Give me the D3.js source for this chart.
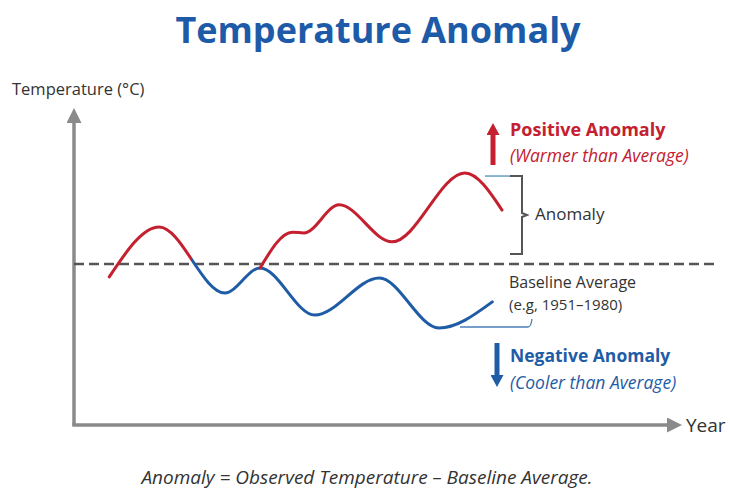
<!DOCTYPE html>
<html lang="en">
<head>
    <meta charset="UTF-8">
    <title>Temperature Anomaly</title>
    <script src="https://d3js.org/d3.v7.min.js"></script>
    <style>
        body { margin: 0; background: #fff; }
        svg { display: block; font-family: "Open Sans", "Noto Sans", sans-serif; }
    </style>
</head>
<body>
    <div id="chart"></div>

    <script>
        // Illustrative data: x = time index, y = anomaly (°C) vs. baseline
        // observed trunk (red while above the baseline, then blue)
        const trunkX = [5.8, 14.0, 24.8, 30.6, 39.6, 50.2, 60.0, 68.8];
        const trunkY = [-0.32, 0.92, -0.72, -0.10, -1.27, -0.35, -1.59, -0.94];
        // warmer branch that leaves the trunk
        const warmX = [30.6, 35.9, 37.8, 43.6, 52.3, 64.3, 70.4];
        const warmY = [-0.10, 0.79, 0.77, 1.47, 0.55, 2.26, 1.34];
        const crossX = 19.4;   // where the trunk drops below the baseline
        const baseline = 0;

        const width = 730;
        const height = 496;
        const red = "#c4202f";
        const blue = "#1f5ca6";
        const axisGrey = "#8a8a8a";
        const textDark = "#333";

        const svg = d3.select("#chart")
            .append("svg")
            .attr("width", width)
            .attr("height", height);

        const x = d3.scaleLinear().domain([0, 100]).range([74, 682]);
        const y = d3.scaleLinear().domain([-4, 4]).range([425, 103]);

        const defs = svg.append("defs");

        // arrow markers
        function marker(id, color, w, h) {
            defs.append("marker")
                .attr("id", id)
                .attr("viewBox", `0 0 ${h} ${w}`)
                .attr("refX", 0)
                .attr("refY", w / 2)
                .attr("markerUnits", "userSpaceOnUse")
                .attr("markerWidth", h)
                .attr("markerHeight", w)
                .attr("orient", "auto")
                .append("path")
                .attr("d", `M0,0L${h},${w / 2}L0,${w}Z`)
                .attr("fill", color);
        }
        marker("axisArrow", axisGrey, 15, 15);
        marker("redArrow", red, 13, 12);
        marker("blueArrow", blue, 13, 12);

        // gradient: red until the crossing, blue afterwards
        const grad = defs.append("linearGradient")
            .attr("id", "trunkGrad")
            .attr("gradientUnits", "userSpaceOnUse")
            .attr("x1", x(0)).attr("x2", x(100))
            .attr("y1", 0).attr("y2", 0);
        const stopAt = (crossX - 0) / 100;
        grad.append("stop").attr("offset", stopAt).attr("stop-color", red);
        grad.append("stop").attr("offset", stopAt).attr("stop-color", blue);

        // Title
        svg.append("text")
            .attr("x", 378)
            .attr("y", 43)
            .attr("text-anchor", "middle")
            .attr("font-size", 36)
            .attr("font-weight", 700)
            .attr("fill", "#1d5aa8")
            .text("Temperature Anomaly");

        // Axes
        svg.append("line")
            .attr("x1", x(0)).attr("y1", y(-4))
            .attr("x2", x(0)).attr("y2", 123)
            .attr("stroke", axisGrey)
            .attr("stroke-width", 3.5)
            .attr("marker-end", "url(#axisArrow)");

        svg.append("line")
            .attr("x1", x(0) - 1.75).attr("y1", y(-4))
            .attr("x2", 667).attr("y2", y(-4))
            .attr("stroke", axisGrey)
            .attr("stroke-width", 3.5)
            .attr("marker-end", "url(#axisArrow)");

        svg.append("text")
            .attr("x", 12).attr("y", 95)
            .attr("font-size", 16.5)
            .attr("fill", textDark)
            .text("Temperature (°C)");

        svg.append("text")
            .attr("x", 686).attr("y", 432)
            .attr("font-size", 19)
            .attr("fill", textDark)
            .text("Year");

        // Baseline
        svg.append("line")
            .attr("x1", x(0)).attr("x2", 718)
            .attr("y1", y(baseline)).attr("y2", y(baseline))
            .attr("stroke", "#555")
            .attr("stroke-width", 2.5)
            .attr("stroke-dasharray", "10,5");

        const line = d3.line()
            .x(d => x(d[0]))
            .y(d => y(d[1]))
            .curve(d3.curveMonotoneX);

        const trunk = d3.zip(trunkX, trunkY);
        const warm = d3.zip(warmX, warmY);

        svg.append("path")
            .attr("d", line(trunk))
            .attr("fill", "none")
            .attr("stroke", "url(#trunkGrad)")
            .attr("stroke-width", 3)
            .attr("stroke-linecap", "round");

        svg.append("path")
            .attr("d", line(warm))
            .attr("fill", "none")
            .attr("stroke", red)
            .attr("stroke-width", 3)
            .attr("stroke-linecap", "round");

        // Anomaly bracket
        const peakY = y(d3.max(warmY)) + 3;
        svg.append("line")
            .attr("x1", 485).attr("x2", 510)
            .attr("y1", peakY).attr("y2", peakY)
            .attr("stroke", "#4a8fb8")
            .attr("stroke-width", 1.3);

        svg.append("path")
            .attr("d", `M510,${peakY}H522V213L527,215L522,217V254H510`)
            .attr("fill", "none")
            .attr("stroke", "#555")
            .attr("stroke-width", 2);

        svg.append("text")
            .attr("x", 535).attr("y", 220)
            .attr("font-size", 17)
            .attr("fill", textDark)
            .text("Anomaly");

        // Positive anomaly
        svg.append("line")
            .attr("x1", 493).attr("x2", 493)
            .attr("y1", 165).attr("y2", 135)
            .attr("stroke", red)
            .attr("stroke-width", 5)
            .attr("marker-end", "url(#redArrow)");

        svg.append("text")
            .attr("x", 510).attr("y", 136)
            .attr("font-size", 18)
            .attr("font-weight", 700)
            .attr("fill", red)
            .text("Positive Anomaly");

        svg.append("text")
            .attr("x", 510).attr("y", 162)
            .attr("font-size", 17.5)
            .attr("font-style", "italic")
            .attr("fill", red)
            .text("(Warmer than Average)");

        // Baseline label
        svg.append("text")
            .attr("x", 509).attr("y", 288)
            .attr("font-size", 16)
            .attr("fill", textDark)
            .text("Baseline Average");

        svg.append("text")
            .attr("x", 509).attr("y", 310)
            .attr("font-size", 15)
            .attr("fill", textDark)
            .text("(e.g, 1951–1980)");

        svg.append("path")
            .attr("d", "M460,327H528Q531,327 532,319")
            .attr("fill", "none")
            .attr("stroke", "#4a7fb8")
            .attr("stroke-width", 1.3);

        // Negative anomaly
        svg.append("line")
            .attr("x1", 497).attr("x2", 497)
            .attr("y1", 343).attr("y2", 375)
            .attr("stroke", blue)
            .attr("stroke-width", 5)
            .attr("marker-end", "url(#blueArrow)");

        svg.append("text")
            .attr("x", 510).attr("y", 362)
            .attr("font-size", 17.5)
            .attr("font-weight", 700)
            .attr("fill", blue)
            .text("Negative Anomaly");

        svg.append("text")
            .attr("x", 510).attr("y", 389)
            .attr("font-size", 17.5)
            .attr("font-style", "italic")
            .attr("fill", blue)
            .text("(Cooler than Average)");

        // Formula
        svg.append("text")
            .attr("x", 367).attr("y", 484)
            .attr("text-anchor", "middle")
            .attr("font-size", 19)
            .attr("font-style", "italic")
            .attr("fill", textDark)
            .text("Anomaly = Observed Temperature – Baseline Average.");
    </script>
</body>
</html>
